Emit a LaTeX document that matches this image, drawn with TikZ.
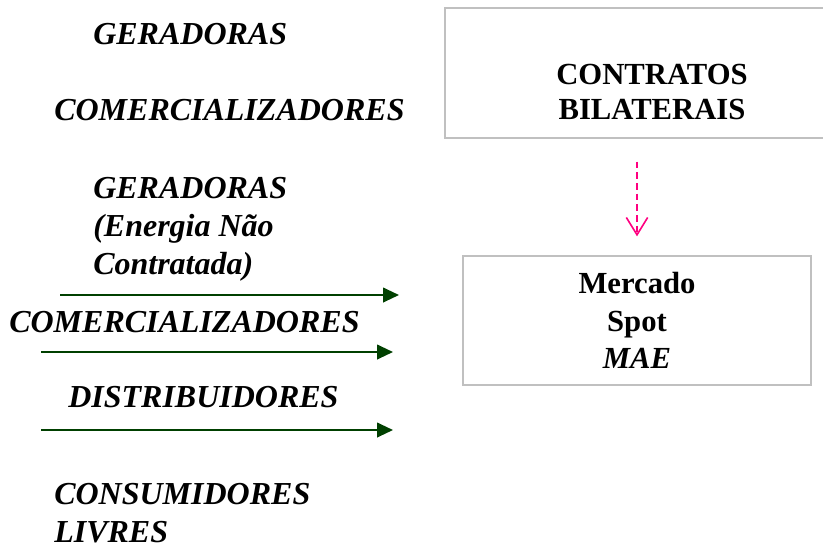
\documentclass[tikz,border=0pt]{standalone}
\usepackage{fontspec}
\setmainfont{Liberation Serif}
\usetikzlibrary{arrows.meta}
\definecolor{cinza}{RGB}{192,192,192}
\definecolor{verde}{RGB}{0,64,0}
\definecolor{rosa}{RGB}{255,0,128}
\begin{document}
\begin{tikzpicture}[x=0.75pt, y=-0.75pt,
    agente/.style={anchor=base west, inner sep=0, align=left,
      font=\fontsize{24}{28.5}\selectfont\bfseries\itshape},
    caixa/.style={draw=cinza, line width=1.5pt, inner sep=0},
    rotulo/.style={align=center, inner sep=0,
      font=\fontsize{23}{26.5}\selectfont\bfseries},
    fluxo/.style={verde, line width=1.5pt, -{Triangle[length=12pt, width=11pt]}},
    tracejada/.style={rosa, line width=1.2pt, dash pattern=on 5pt off 3pt,
      -{Straight Barb[length=13pt, width=16pt]}}]
    \useasboundingbox (0,0) rectangle (823,547);
    \clip (0,0) rectangle (823,547);

    % left column
    \node[agente] (ger1) at (93,44) {GERADORAS};
    \node[agente] (com1) at (54,120) {COMERCIALIZADORES};
    \node[agente, anchor=north west] (ger2) at (93,177) {GERADORAS\\(Energia Não\\Contratada)};
    \node[agente] (com2) at (9,332) {COMERCIALIZADORES};
    \node[agente] (dist) at (68,407) {DISTRIBUIDORES};
    \node[agente, anchor=north west] (cons) at (54,483) {CONSUMIDORES\\LIVRES};

    % boxes
    \node[caixa, anchor=north west, minimum width=312pt, minimum height=97.5pt] (contratos) at (444,7) {};
    \node[rotulo] (contratostxt) at (652,92) {CONTRATOS\\BILATERAIS};
    \node[caixa, rotulo, font=\fontsize{23}{28}\selectfont\bfseries,
      minimum width=261pt, minimum height=96.75pt] (mercado) at (637,320.5)
      {Mercado\\Spot\\\textit{MAE}};

    % arrows
    \coordinate (a1) at (60,295);  \coordinate (b1) at (399,295);
    \coordinate (a2) at (41,352);  \coordinate (b2) at (393,352);
    \coordinate (a3) at (41,430);  \coordinate (b3) at (393,430);
    \draw[fluxo] (a1) -- (b1);
    \draw[fluxo] (a2) -- (b2);
    \draw[fluxo] (a3) -- (b3);
    \draw[tracejada, shorten <=17pt, shorten >=14pt] (contratos.south -| mercado.north) -- (mercado.north);
\end{tikzpicture}
\end{document}
